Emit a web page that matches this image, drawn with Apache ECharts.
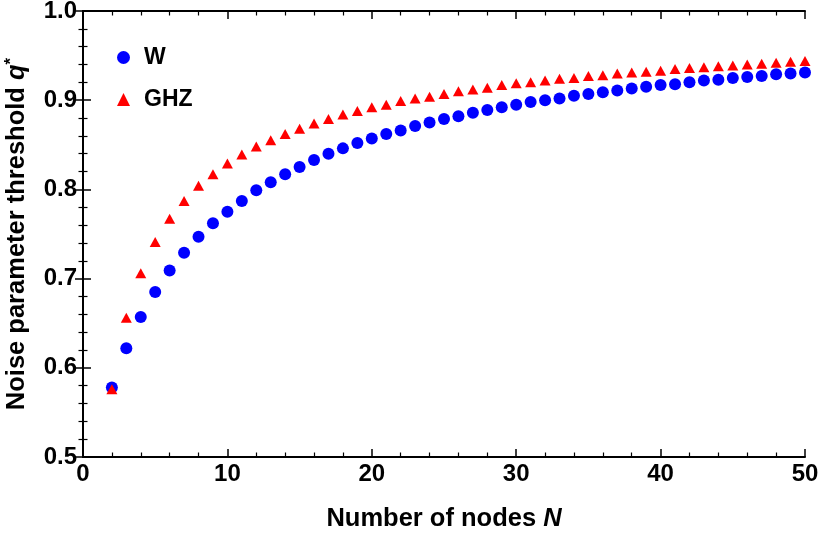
<!DOCTYPE html>
<html><head><meta charset="utf-8">
<script src="https://cdn.jsdelivr.net/npm/echarts@6/dist/echarts.min.js"></script>
<style>html,body{margin:0;padding:0;background:#fff}#c{width:819px;height:534px}</style>
</head><body><div id="c"></div>
<script>
const nodes = [2,3,4,5,6,7,8,9,10,11,12,13,14,15,16,17,18,19,20,21,22,23,24,25,26,27,28,29,30,31,32,33,34,35,36,37,38,39,40,41,42,43,44,45,46,47,48,49,50];
const wValues = [0.578,0.622,0.657,0.685,0.709,0.729,0.747,0.762,0.775,0.787,0.799,0.808,0.817,0.825,0.833,0.840,0.846,0.852,0.857,0.862,0.866,0.871,0.875,0.879,0.882,0.886,0.889,0.892,0.895,0.898,0.900,0.902,0.905,0.907,0.909,0.911,0.913,0.915,0.917,0.918,0.920,0.922,0.923,0.925,0.926,0.927,0.929,0.930,0.931];
const ghzValues = [0.576,0.656,0.706,0.741,0.767,0.787,0.804,0.817,0.829,0.839,0.848,0.855,0.862,0.868,0.874,0.879,0.884,0.888,0.892,0.895,0.899,0.902,0.904,0.907,0.910,0.912,0.914,0.917,0.919,0.920,0.922,0.924,0.925,0.927,0.928,0.930,0.931,0.932,0.933,0.935,0.936,0.937,0.938,0.939,0.940,0.941,0.942,0.943,0.944];
const xTicks = [0,10,20,30,40,50];
const yTicks = [0.5,0.6,0.7,0.8,0.9,1.0];

const FONT = "'Liberation Sans', Arial, sans-serif";
const axisLine = {show:true, lineStyle:{color:'#000', width:2}};
const tick = {show:true, inside:true, length:8, lineStyle:{color:'#000', width:1.5}};
const minor = {show:true, splitNumber:5, length:4.5, lineStyle:{color:'#000', width:1.2}};
const lab = {color:'#000', fontFamily:FONT, fontWeight:'bold', fontSize:24};

const chart = echarts.init(document.getElementById('c'));
chart.setOption({
  animation:false,
  backgroundColor:'#fff',
  grid:{left:83, right:14, top:11, bottom:77, containLabel:false, outerBoundsMode:'none'},
  legend:{
    orient:'vertical', left:112, top:41, itemGap:19, itemWidth:13, itemHeight:13,
    textStyle:{color:'#000', fontFamily:FONT, fontWeight:'bold', fontSize:23, padding:[0,0,0,9]},
    data:[{name:'W', icon:'circle'},{name:'GHZ', icon:'triangle'}]
  },
  xAxis:[{
    type:'value', min:xTicks[0], max:xTicks[xTicks.length-1], interval:10,
    axisLine:axisLine, axisTick:tick, minorTick:minor, splitLine:{show:false},
    axisLabel:Object.assign({margin:5, formatter:v=>String(v)}, lab),
    name:'Number of nodes {n|N}', nameLocation:'middle', nameGap:49,
    nameTextStyle:{color:'#000', fontFamily:FONT, fontWeight:'bold', fontSize:25.5,
      rich:{n:{fontFamily:FONT, fontWeight:'bold', fontStyle:'italic', fontSize:25.5, color:'#000'}}}
  },{
    type:'value', position:'top', min:0, max:50, interval:10,
    axisLine:axisLine, axisTick:tick, minorTick:minor, splitLine:{show:false}, axisLabel:{show:false}
  }],
  yAxis:[{
    type:'value', min:yTicks[0], max:yTicks[yTicks.length-1], interval:0.1,
    axisLine:axisLine, axisTick:tick, minorTick:minor, splitLine:{show:false},
    axisLabel:Object.assign({margin:6, formatter:v=>v.toFixed(1)}, lab),
    name:'Noise parameter threshold {q|q}{s|*}', nameLocation:'middle', nameGap:52,
    nameTextStyle:{color:'#000', fontFamily:FONT, fontWeight:'bold', fontSize:25.5,
      rich:{q:{fontFamily:FONT, fontWeight:'bold', fontStyle:'italic', fontSize:25.5, color:'#000'},
            s:{fontFamily:FONT, fontWeight:'bold', fontSize:17, color:'#000', verticalAlign:'top', padding:[0,0,11,0]}}}
  },{
    type:'value', position:'right', min:0.5, max:1.0, interval:0.1,
    axisLine:axisLine, axisTick:tick, minorTick:minor, splitLine:{show:false}, axisLabel:{show:false}
  }],
  series:[{
    name:'W', type:'scatter', symbol:'circle', symbolSize:12,
    itemStyle:{color:'#0000ff', opacity:1},
    data:nodes.map((n,i)=>[n, wValues[i]])
  },{
    name:'GHZ', type:'scatter', symbol:'triangle', symbolSize:[11,10],
    itemStyle:{color:'#ff0000', opacity:1},
    data:nodes.map((n,i)=>[n, ghzValues[i]])
  }]
});
</script></body></html>
